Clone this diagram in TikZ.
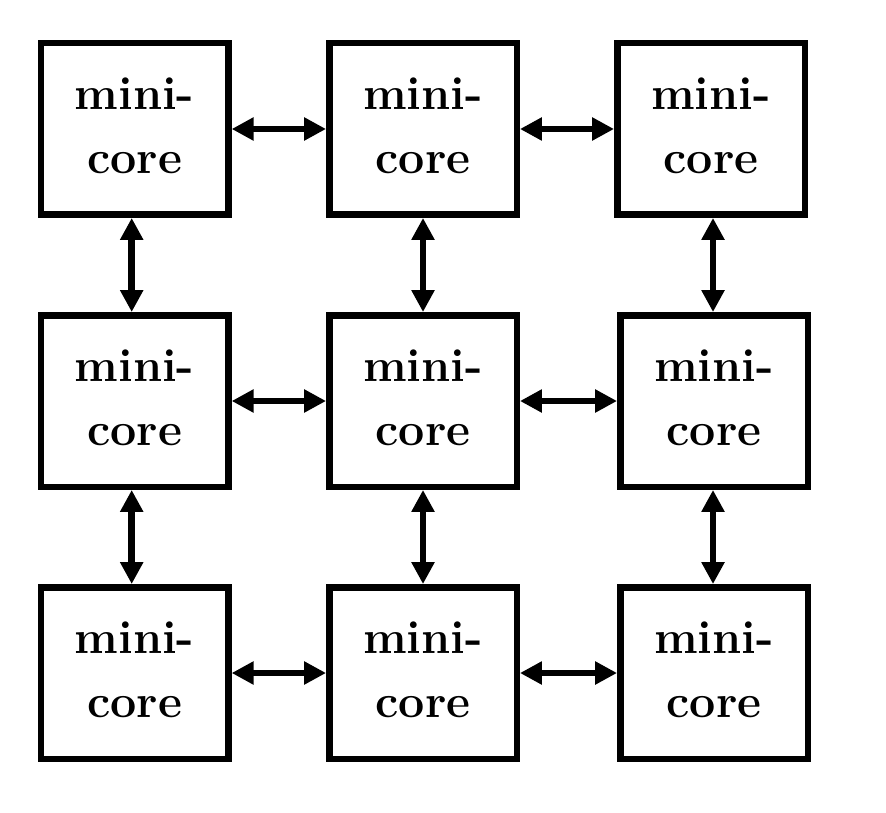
\documentclass[tikz,border=0pt]{standalone}
\usetikzlibrary{arrows.meta}
\begin{document}
\begin{tikzpicture}[x=0.5pt,y=-0.5pt,
  core/.style={draw=black,line width=3.25pt,minimum width=93.75pt,minimum height=85.75pt,inner sep=0pt,outer sep=1.6pt,align=center,
    font=\fontsize{23.3}{32}\selectfont\bfseries},
  arr/.style={line width=3.4pt,{Triangle[length=11pt,width=11pt]}-{Triangle[length=11pt,width=11pt]}}]
\useasboundingbox (0,0) rectangle (886,812);
\node[core] (a) at (134.7,129) {mini-\\core\rule[-3.6pt]{0pt}{0pt}};
\node[core] (b) at (423,129) {mini-\\core\rule[-3.6pt]{0pt}{0pt}};
\node[core] (c) at (711,129) {mini-\\core\rule[-3.6pt]{0pt}{0pt}};
\node[core] (d) at (134.7,401) {mini-\\core\rule[-3.6pt]{0pt}{0pt}};
\node[core] (e) at (423,401) {mini-\\core\rule[-3.6pt]{0pt}{0pt}};
\node[core] (f) at (714,401) {mini-\\core\rule[-3.6pt]{0pt}{0pt}};
\node[core] (g) at (134.7,673) {mini-\\core\rule[-3.6pt]{0pt}{0pt}};
\node[core] (h) at (423,673) {mini-\\core\rule[-3.6pt]{0pt}{0pt}};
\node[core] (i) at (714,673) {mini-\\core\rule[-3.6pt]{0pt}{0pt}};
% horizontal
\draw[arr] (a) -- (b);
\draw[arr] (b) -- (c);
\draw[arr] (d) -- (e);
\draw[arr] (e) -- (f);
\draw[arr] (g) -- (h);
\draw[arr] (h) -- (i);
% vertical
\draw[arr] ([xshift=-1.5pt]a.south) -- ([xshift=-1.5pt]a.south |- d.north);
\draw[arr] (b.south) -- (b.south |- e.north);
\draw[arr] ([xshift=1pt]c.south) -- ([xshift=1pt]c.south |- f.north);
\draw[arr] ([xshift=-1.5pt]d.south) -- ([xshift=-1.5pt]d.south |- g.north);
\draw[arr] (e.south) -- (e.south |- h.north);
\draw[arr] ([xshift=-0.5pt]f.south) -- ([xshift=-0.5pt]f.south |- i.north);
\end{tikzpicture}
\end{document}
